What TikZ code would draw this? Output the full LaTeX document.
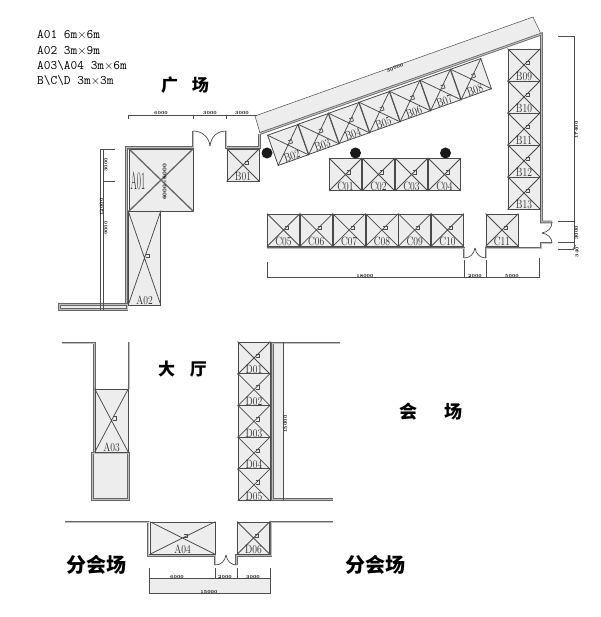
\documentclass[tikz,border=0pt]{standalone}
\usepackage{fontspec}
\newfontfamily\cjk{Noto Sans CJK SC}
\usetikzlibrary{calc}
\definecolor{boothgray}{HTML}{EDEDED}
\definecolor{linegray}{HTML}{4A4A4A}
\tikzset{
  booth/.style={draw=linegray,fill=boothgray,line width=0.8pt,inner sep=0pt,transform shape},
  boothtext/.style={font=\fontsize{12}{12}\selectfont,text=black!85,inner sep=0.3pt,minimum width=0pt,minimum height=0pt,xscale=0.8,transform shape},
  diag/.style={draw=linegray,line width=0.75pt},
  wall/.style={draw=black!60,double=black!25,double distance=1pt,line width=0.8pt},
  doorline/.style={draw=black!70,line width=0.7pt},
  dim/.style={draw=black!70,line width=0.5pt},
  dimtext/.style={font=\fontsize{4.5}{4.5}\bfseries\selectfont,inner sep=0pt},
  pillar/.style={circle,fill=black!90,inner sep=0pt,minimum size=11pt},
  hall/.style={font=\cjk\bfseries\fontsize{17}{17}\selectfont,inner sep=0pt},
  room/.style={font=\cjk\bfseries\fontsize{20}{20}\selectfont,inner sep=0pt},
  legend/.style={font=\ttfamily\fontsize{13}{13}\selectfont,anchor=west,inner sep=0pt}
}
% one booth: box, cross, small flag, name at the bottom
\newcommand{\booth}[5][]{
  \begin{scope}[shift={(#3,#4)},minimum width=32pt,minimum height=32pt,#1]
    \node[booth] (#2) at (0,0) {};
    \draw[diag] (#2.north west) -- (#2.south east) (#2.north east) -- (#2.south west);
    \draw[dim,line width=0.7pt] (1.5,-4) -- (5,-4) -- (5,-0.5) -- (1.5,-0.5);
    \node[boothtext,anchor=south] (#2text) at (#2.south) {#5};
  \end{scope}
}

\begin{document}
\begin{tikzpicture}[x=1pt,y=-1pt]
  \useasboundingbox (0,0) rectangle (600,617);

  % legend and hall names
  \node[legend] (l1) at (37,35) {A01 6m$\times$6m};
  \node[legend] (l2) at (37,51) {A02 3m$\times$9m};
  \node[legend] (l3) at (37,66) {A03\textbackslash A04 3m$\times$6m};
  \node[legend] (l4) at (37,81) {B\textbackslash C\textbackslash D 3m$\times$3m};
  \node[hall] (square) at (185,85) {广\hspace{14pt}场};
  \node[hall] (lobby) at (182.5,369) {大\hspace{15pt}厅};
  \node[hall,font=\cjk\bfseries\fontsize{18}{18}\selectfont] (venue) at (431,412) {会\hspace{27pt}场};
  \node[room] (sub1) at (96,565) {分会场};
  \node[room] (sub2) at (375,565) {分会场};

  % sloped band above the B row
  \fill[boothgray] (255,116) -- (533,17) -- (541,34) -- (260,133) -- cycle;
  \draw[dim] (260,133) -- (255,116) -- (533,17) -- (541,34);
  \node[dimtext,rotate=19.5] (slopedim) at (395,68) {30000};

  % upper hall walls
  \draw[wall] (193,131) -- (193,147.5) -- (126.5,147.5) -- (126.5,304);
  \draw[wall,fill=boothgray] (127,304.5) -- (59.5,304.5) -- (59.5,309.5) -- (127,309.5) -- cycle;
  \draw[wall] (226,131) -- (226,147.5) -- (259.5,147.5) -- (259.5,134);
  \draw[wall] (260,133.5) -- (541.5,34) -- (541.5,222) -- (552,222);
  \draw[wall] (552,243) -- (541,243) -- (541,248) -- (486,248) -- (486,258);
  \draw[wall] (464,258) -- (464,248) -- (267,248);
  % doors
  \draw[doorline] (193,131) .. controls (202,131) and (209,137) .. (210,146);
  \draw[doorline] (226,131) .. controls (217,131) and (211,137) .. (210,146);
  \draw[doorline] (464,258) .. controls (470,258) and (474,254) .. (475,248);
  \draw[doorline] (486,258) .. controls (480,258) and (476,254) .. (475,248);
  \draw[doorline] (552,222) .. controls (552,228) and (548,232) .. (542,233);
  \draw[doorline] (552,243) .. controls (552,238) and (548,234) .. (542,233);

  % booths A01, A02
  \begin{scope}[shift={(161,180)},minimum width=64pt,minimum height=62pt]
    \node[booth] (a01) at (0,0) {};
    \draw[diag,line width=1.3pt,draw=black!60] (a01.north west) -- (a01.south east) (a01.north east) -- (a01.south west);
    \node[boothtext,font=\fontsize{25}{25}\selectfont,xscale=0.45,anchor=west] (a01text) at (-30.5,1) {A01};
    \node[dimtext,rotate=90,font=\fontsize{5.5}{5.5}\bfseries\selectfont] (a01dim) at (4,2) {6000$\times$6000};
  \end{scope}
  \booth[minimum height=94pt]{a02}{144.5}{258}{A02}
  \booth{b01}{243}{165}{B01}

  % sloped row B02 - B08
  \booth[rotate=19.5]{b02}{288}{145}{B02}
  \booth[rotate=19.5]{b03}{318.5}{134}{B03}
  \booth[rotate=19.5]{b04}{349}{123}{B04}
  \booth[rotate=19.5]{b05}{379.5}{112}{B05}
  \booth[rotate=19.5]{b06}{410}{101}{B06}
  \booth[rotate=19.5]{b07}{440.5}{90}{B07}
  \booth[rotate=19.5]{b08}{471}{79}{B08}

  % right column B09 - B13
  \booth{b09}{524}{65}{B09}
  \booth{b10}{524}{97}{B10}
  \booth{b11}{524}{129}{B11}
  \booth{b12}{524}{161}{B12}
  \booth{b13}{524}{193}{B13}

  % middle row C01 - C04
  \booth{c01}{345.5}{174.5}{C01}
  \booth{c02}{378.5}{174.5}{C02}
  \booth{c03}{411.5}{174.5}{C03}
  \booth{c04}{444.5}{174.5}{C04}

  % lower row C05 - C11
  \booth{c05}{283.5}{230}{C05}
  \booth{c06}{316.3}{230}{C06}
  \booth{c07}{349.1}{230}{C07}
  \booth{c08}{381.9}{230}{C08}
  \booth{c09}{414.7}{230}{C09}
  \booth{c10}{447.5}{230}{C10}
  \booth{c11}{502}{230}{C11}

  % pillars
  \node[pillar] (p1) at (267,153) {};
  \node[pillar] (p2) at (355.5,153) {};
  \node[pillar] (p3) at (445.5,153) {};

  % top dimensions
  \draw[dim] (128,119) -- (128,115) -- (257,115) (193,115) -- (193,119) (226,115) -- (226,119);
  \node[dimtext] (dt1) at (161,113) {6000};
  \node[dimtext] (dt2) at (210,113) {3000};
  \node[dimtext] (dt3) at (242,113) {3000};

  % left dimensions
  \draw[dim] (115,149) -- (100,149) -- (100,310) (103,149) -- (103,310) (103,181) -- (115,181);
  \node[dimtext,rotate=90] (dl1) at (106,165) {3000};
  \node[dimtext,rotate=90] (dl2) at (101.5,207) {12000};
  \node[dimtext,rotate=90] (dl3) at (106,228) {9000};

  % right dimensions
  \draw[dim] (558,36) -- (574,36) -- (574,249);
  \draw[dim] (558,221) -- (574,221) (558,242) -- (574,242) (558,249) -- (574,249);
  \draw[dim] (572,250) -- (576,245);
  \node[dimtext,rotate=90] (dr1) at (576.5,130) {17400};
  \node[dimtext,rotate=90] (dr2) at (576.5,233) {3000};
  \node[dimtext,rotate=90] (dr3) at (577,252) {340};

  % bottom dimensions of the upper hall
  \draw[dim] (267,262) -- (267,277) -- (539,277) -- (539,258) (464,260) -- (464,277) (486,260) -- (486,277);
  \node[dimtext] (db1) at (365,276) {18000};
  \node[dimtext] (db2) at (475,276) {2000};
  \node[dimtext] (db3) at (512,276) {5000};

  % lobby, left side
  \draw[wall] (62,343) -- (94.5,343) -- (94.5,389);
  \draw[wall] (129,342) -- (129,389);
  \fill[boothgray] (93,454) rectangle (128,499);
  \draw[wall] (92.5,453) rectangle (128.5,499.5);
  \draw[wall] (94,389) -- (94,453);
  \booth[minimum height=63pt,minimum width=33pt]{a03}{111.5}{420.5}{A03}

  % lobby, right side
  \fill[boothgray] (274,343) rectangle (283,500);
  \draw[wall] (340,343) -- (272.5,343) -- (272.5,499.5) -- (333,499.5);
  \draw[dim] (283,342) -- (283,501);
  \node[dimtext,rotate=90] (dd) at (285.5,424) {15000};
  \booth{d01}{254}{358}{D01}
  \booth{d02}{254}{389.7}{D02}
  \booth{d03}{254}{421.4}{D03}
  \booth{d04}{254}{453.1}{D04}
  \booth{d05}{254}{484.8}{D05}

  % lower walls
  \draw[wall] (65,522) -- (148,522) -- (148,555.5) -- (215,555.5) -- (215,565);
  \draw[wall] (236.5,565) -- (236.5,555.5) -- (271,555.5) -- (271,522) -- (333,522);
  \draw[doorline] (215,565) .. controls (221,565) and (225,561) .. (226,555);
  \draw[doorline] (236.5,565) .. controls (231,565) and (227,561) .. (226,555);
  \booth[minimum width=65pt]{a04}{182.5}{538}{A04}
  \booth{d06}{253.5}{538}{D06}

  % bottom dimensions
  \fill[boothgray] (149,578) rectangle (270,593);
  \draw[dim] (149,568) -- (149,593) -- (270,593) -- (270,568) (149,578) -- (270,578) (215,568) -- (215,578) (237,568) -- (237,578);
  \node[dimtext] (de1) at (177,577) {6000};
  \node[dimtext] (de2) at (225,577) {2000};
  \node[dimtext] (de3) at (253,577) {3000};
  \node[dimtext] (de4) at (209,592) {15000};
\end{tikzpicture}
\end{document}
